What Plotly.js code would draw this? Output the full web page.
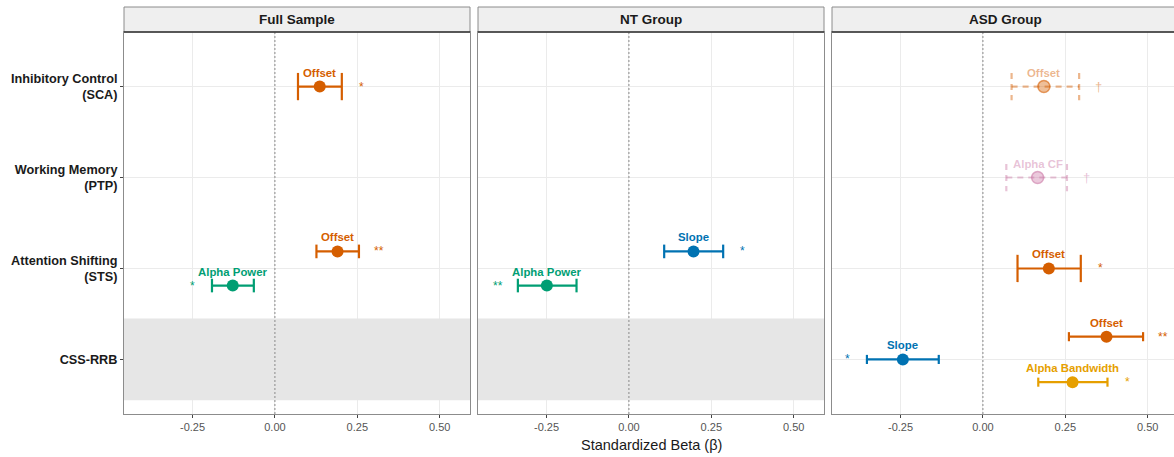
<!DOCTYPE html>
<html><head><meta charset="utf-8">
<script src="https://cdn.plot.ly/plotly-3.0.1.min.js"></script>
<style>html,body{margin:0;padding:0;overflow:hidden;background:#fff}#chart{width:1180px;height:457px}</style>
</head><body><div id="chart"></div>
<script>
// ---- data ----
const panels = ["Full Sample", "NT Group", "ASD Group"];
const outcomes = ["Inhibitory Control<br>(SCA)", "Working Memory<br>(PTP)", "Attention Shifting<br>(STS)", "CSS-RRB"];
const xTickVals = [-0.25, 0, 0.25, 0.5];
const xTickText = ["-0.25", "0.00", "0.25", "0.50"];
const xTitle = "Standardized Beta (β)";

const rowPanel = ["Full Sample", "Full Sample", "Full Sample", "NT Group", "NT Group",
  "ASD Group", "ASD Group", "ASD Group", "ASD Group", "ASD Group", "ASD Group"];
const rowOutcome = ["Inhibitory Control<br>(SCA)", "Attention Shifting<br>(STS)", "Attention Shifting<br>(STS)",
  "Attention Shifting<br>(STS)", "Attention Shifting<br>(STS)",
  "Inhibitory Control<br>(SCA)", "Working Memory<br>(PTP)", "Attention Shifting<br>(STS)",
  "CSS-RRB", "CSS-RRB", "CSS-RRB"];
const rowPredictor = ["Offset", "Offset", "Alpha Power", "Slope", "Alpha Power",
  "Offset", "Alpha CF", "Offset", "Offset", "Slope", "Alpha Bandwidth"];
const rowBeta = [0.136, 0.190, -0.128, 0.196, -0.249, 0.185, 0.166, 0.200, 0.375, -0.243, 0.272];
const rowLow  = [0.070, 0.126, -0.191, 0.107, -0.337, 0.087, 0.071, 0.105, 0.261, -0.352, 0.168];
const rowHigh = [0.203, 0.255, -0.064, 0.286, -0.159, 0.292, 0.255, 0.297, 0.486, -0.134, 0.378];
const rowSig  = ["*", "**", "*", "*", "**", "†", "†", "*", "**", "*", "*"];

// outcome not tested in these panels (grey band)
const shadedPanels = ["Full Sample", "NT Group"];
const shadedOutcome = "CSS-RRB";

// ---- styles ----
const predictorColors = {
  "Offset": "#D55E00",
  "Alpha Power": "#009E73",
  "Slope": "#0072B2",
  "Alpha Bandwidth": "#E69F00",
  "Alpha CF": "#CC79A7"
};
function rgba(hex, a) {
  const n = parseInt(hex.slice(1), 16);
  return `rgba(${(n >> 16) & 255},${(n >> 8) & 255},${n & 255},${a})`;
}
const FONT = "Liberation Sans, Arial, Helvetica, sans-serif";

const W = 1180, H = 457, ML = 124, MR = 2, MT = 32, MB = 43;
const plotW = W - ML - MR, plotH = H - MT - MB, gap = 8;
const pw = (plotW - 2 * gap) / 3;
const domains = [0, 1, 2].map(i => [(i * (pw + gap)) / plotW, (i * (pw + gap) + pw) / plotW]);
const xRange = [-0.458, 0.592];
const yRange = [outcomes.length - 0.4, -0.6];

const traces = [], annotations = [], shapes = [];
const axName = (p, letter) => p === 0 ? letter : letter + (p + 1);

// dodge positions
const counts = {}, idxInGroup = [];
rowPanel.forEach((p, i) => {
  const k = p + "|" + rowOutcome[i];
  idxInGroup[i] = counts[k] || 0;
  counts[k] = (counts[k] || 0) + 1;
});
const dodgeW = 0.75, capW = 0.3;

// panel backgrounds / strips
panels.forEach((p, pi) => {
  const xa = axName(pi, "x"), ya = axName(pi, "y");
  if (shadedPanels.includes(p)) {
    const yc = outcomes.indexOf(shadedOutcome);
    traces.push({type: "scatter", mode: "lines", xaxis: xa, yaxis: ya,
      x: [xRange[0], xRange[1], xRange[1], xRange[0], xRange[0]],
      y: [yc - 0.45, yc - 0.45, yc + 0.45, yc + 0.45, yc - 0.45],
      fill: "toself", fillcolor: "#e6e6e6", line: {width: 0, color: "rgba(0,0,0,0)"},
      hoverinfo: "skip", showlegend: false});
  }
  traces.push({type: "scatter", mode: "lines", xaxis: xa, yaxis: ya, x: [0, 0], y: yRange,
    line: {color: "#8a8a8a", width: 1, dash: "2px,2px"}, hoverinfo: "skip", showlegend: false});
  const stripH = 25 / plotH;
  shapes.push({type: "rect", xref: "paper", yref: "paper", x0: domains[pi][0], x1: domains[pi][1],
    y0: 1, y1: 1 + stripH, fillcolor: "#efefef", line: {color: "#8c8c8c", width: 1}});
  shapes.push({type: "line", xref: "paper", yref: "paper", x0: domains[pi][0], x1: domains[pi][1],
    y0: 1, y1: 1, line: {color: "#333333", width: 1.3}});
  annotations.push({xref: "paper", yref: "paper", x: (domains[pi][0] + domains[pi][1]) / 2, y: 1 + stripH / 2,
    yanchor: "middle", xanchor: "center", showarrow: false, text: "<b>" + p + "</b>",
    font: {family: FONT, size: 13.5, color: "#1a1a1a"}});
});

rowPanel.forEach((p, i) => {
  const pi = panels.indexOf(p);
  const xa = axName(pi, "x"), ya = axName(pi, "y");
  const n = counts[p + "|" + rowOutcome[i]];
  const y = outcomes.indexOf(rowOutcome[i]) + (idxInGroup[i] - (n - 1) / 2) * dodgeW / n;
  const c = capW / 2 / n;
  const faded = rowSig[i] === "†";
  const base = predictorColors[rowPredictor[i]];
  const col = faded ? rgba(base, 0.45) : base;
  const lo = rowLow[i], hi = rowHigh[i], b = rowBeta[i];
  traces.push({type: "scatter", mode: "lines", xaxis: xa, yaxis: ya,
    x: [lo, hi, null, lo, lo, null, hi, hi], y: [y, y, null, y - c, y + c, null, y - c, y + c],
    line: {color: col, width: 2.2, dash: faded ? "6px,5px" : "solid"}, hoverinfo: "skip", showlegend: false});
  traces.push({type: "scatter", mode: "markers", xaxis: xa, yaxis: ya, x: [b], y: [y],
    marker: {size: 12, color: faded ? rgba(base, 0.4) : base,
      line: {color: faded ? rgba(base, 0.6) : base, width: faded ? 1.5 : 0}},
    showlegend: false, hoverinfo: "skip"});
  annotations.push({xref: xa, yref: ya, x: b, y: y, yshift: 14, showarrow: false,
    text: "<b>" + rowPredictor[i] + "</b>", font: {family: FONT, size: 11.4, color: col}});
  annotations.push({xref: xa, yref: ya, x: b > 0 ? hi + 0.06 : lo - 0.06, y: y, showarrow: false,
    text: rowSig[i], font: {family: FONT, size: faded ? 13 : 12, color: col}});
});

// x title
annotations.push({xref: "paper", yref: "paper", x: 0.5, y: 0, yanchor: "top", yshift: -21, showarrow: false,
  text: xTitle, font: {family: FONT, size: 14.5, color: "#1a1a1a"}});

const layout = {
  width: W, height: H,
  margin: {l: ML, r: MR, t: MT, b: MB},
  paper_bgcolor: "#ffffff", plot_bgcolor: "#ffffff",
  showlegend: false,
  shapes: shapes, annotations: annotations,
  font: {family: FONT}
};
panels.forEach((p, pi) => {
  const xk = pi === 0 ? "xaxis" : "xaxis" + (pi + 1);
  const yk = pi === 0 ? "yaxis" : "yaxis" + (pi + 1);
  layout[xk] = {domain: domains[pi], range: xRange, anchor: axName(pi, "y"),
    tickmode: "array", tickvals: xTickVals, ticktext: xTickText,
    ticks: "outside", ticklen: 3, tickcolor: "#444", tickwidth: 1,
    tickfont: {family: FONT, size: 11, color: "#555"},
    showgrid: true, gridcolor: "#ebebeb", gridwidth: 1, zeroline: false,
    showline: true, mirror: true, linecolor: "#8c8c8c", linewidth: 1, fixedrange: true};
  layout[yk] = {domain: [0, 1], range: yRange, anchor: axName(pi, "x"),
    tickmode: "array", tickvals: outcomes.map((o, k) => k), ticktext: outcomes,
    showticklabels: pi === 0, ticks: pi === 0 ? "outside" : "", ticklen: 3, tickcolor: "#444",
    tickfont: {family: FONT, size: 12.7, color: "#1a1a1a", weight: "bold"},
    showgrid: true, gridcolor: "#ebebeb", gridwidth: 1, zeroline: false,
    showline: true, mirror: true, linecolor: "#8c8c8c", linewidth: 1, fixedrange: true};
});

Plotly.newPlot("chart", traces, layout, {displayModeBar: false, staticPlot: true});
</script>
</body></html>
